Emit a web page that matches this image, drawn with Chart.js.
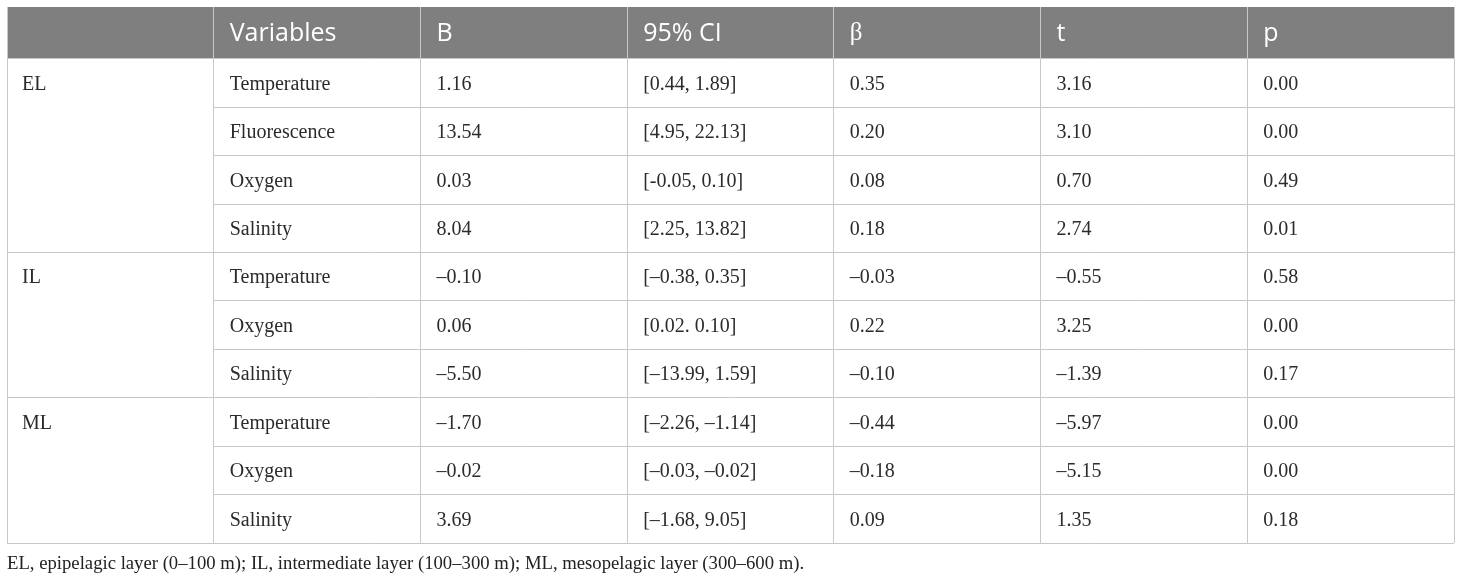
<!DOCTYPE html>
<html>
<head>
    <title>Regression table</title>
    <script src="https://cdn.jsdelivr.net/npm/chart.js"></script>
    <style>
        body {
            margin: 0;
            padding: 0;
            background: #ffffff;
        }
        #tableContainer {
            width: 1460px;
            height: 580px;
        }
    </style>
</head>
<body>

<div id="tableContainer">
    <canvas id="tableChart"></canvas>
</div>

<script>
    // dados da tabela
    var headers = ['', 'Variables', 'B', '95% CI', 'β', 't', 'p'];
    var layers = ['EL', 'IL', 'ML'];
    var layerRows = [4, 3, 3];
    var variables = ['Temperature', 'Fluorescence', 'Oxygen', 'Salinity',
                     'Temperature', 'Oxygen', 'Salinity',
                     'Temperature', 'Oxygen', 'Salinity'];
    var bValues = ['1.16', '13.54', '0.03', '8.04', '–0.10', '0.06', '–5.50', '–1.70', '–0.02', '3.69'];
    var ciValues = ['[0.44, 1.89]', '[4.95, 22.13]', '[-0.05, 0.10]', '[2.25, 13.82]',
                    '[–0.38, 0.35]', '[0.02. 0.10]', '[–13.99, 1.59]',
                    '[–2.26, –1.14]', '[–0.03, –0.02]', '[–1.68, 9.05]'];
    var betaValues = ['0.35', '0.20', '0.08', '0.18', '–0.03', '0.22', '–0.10', '–0.44', '–0.18', '0.09'];
    var tValues = ['3.16', '3.10', '0.70', '2.74', '–0.55', '3.25', '–1.39', '–5.97', '–5.15', '1.35'];
    var pValues = ['0.00', '0.00', '0.49', '0.01', '0.58', '0.00', '0.17', '0.00', '0.00', '0.18'];
    var footnote = 'EL, epipelagic layer (0–100 m); IL, intermediate layer (100–300 m); ML, mesopelagic layer (300–600 m).';

    var columns = [variables, bValues, ciValues, betaValues, tValues, pValues];
    var nRows = variables.length + 1;

    // plugin que desenha cabeçalho, linhas e textos usando as escalas
    var tablePlugin = {
        id: 'tablePlugin',
        beforeDraw: function (chart) {
            var ctx = chart.ctx;
            var x = chart.scales.x, y = chart.scales.y;
            ctx.save();
            ctx.fillStyle = '#7f7f7f';
            ctx.fillRect(x.left, y.getPixelForValue(y.min), x.right - x.left,
                         y.getPixelForValue(1) - y.getPixelForValue(y.min));
            ctx.restore();
        },
        afterDatasetsDraw: function (chart) {
            var ctx = chart.ctx;
            var x = chart.scales.x, y = chart.scales.y;
            ctx.save();

            // linhas horizontais
            ctx.strokeStyle = '#c8c8c8';
            ctx.lineWidth = 1;
            var starts = {};
            var r = 1;
            layers.forEach(function (l, i) { starts[r] = true; r += layerRows[i]; });
            starts[nRows] = true;
            for (var row = 1; row <= nRows; row++) {
                var py = Math.round(y.getPixelForValue(row)) + 0.5;
                var x0 = starts[row] ? x.getPixelForValue(0) : x.getPixelForValue(1);
                ctx.beginPath();
                ctx.moveTo(x0, py);
                ctx.lineTo(x.getPixelForValue(7), py);
                ctx.stroke();
            }

            // cabeçalho
            ctx.fillStyle = '#ffffff';
            ctx.textBaseline = 'middle';
            ctx.textAlign = 'left';
            var hy = (y.getPixelForValue(y.min) + y.getPixelForValue(1)) / 2;
            headers.forEach(function (h, c) {
                ctx.font = (h === 'β' ? '25px "Liberation Serif"' : '25px "Open Sans"');
                ctx.fillText(h, x.getPixelForValue(c) + 16, hy + 1);
            });

            // corpo
            ctx.fillStyle = '#2b2b2b';
            ctx.font = '20px "Liberation Serif"';
            var startRow = 1;
            layers.forEach(function (l, i) {
                ctx.fillText(l, x.getPixelForValue(0) + 15, y.getPixelForValue(startRow + 0.5) + 2);
                startRow += layerRows[i];
            });
            columns.forEach(function (col, c) {
                col.forEach(function (v, i) {
                    ctx.fillText(v, x.getPixelForValue(c + 1) + 16, y.getPixelForValue(i + 1.5) + 2);
                });
            });
            ctx.restore();
        }
    };

    var ctx = document.getElementById('tableChart').getContext('2d');
    new Chart(ctx, {
        type: 'scatter',
        data: { datasets: [] },
        options: {
            responsive: true,
            maintainAspectRatio: false,
            animation: false,
            events: [],
            layout: { padding: { left: 7, right: 6, top: 7, bottom: 0 } },
            plugins: {
                legend: { display: false },
                tooltip: { enabled: false },
                title: {
                    display: true,
                    text: footnote,
                    position: 'bottom',
                    align: 'start',
                    color: '#222222',
                    font: { family: '"Liberation Serif"', size: 18.7, weight: 'normal' },
                    padding: { top: 10, bottom: 5 }
                }
            },
            scales: {
                x: {
                    type: 'linear',
                    min: 0,
                    max: 7,
                    ticks: { display: false, stepSize: 1 },
                    grid: { color: '#c8c8c8', drawTicks: false, lineWidth: 1 },
                    border: { display: false }
                },
                y: {
                    type: 'linear',
                    display: false,
                    reverse: true,
                    min: -0.06,
                    max: nRows
                }
            }
        },
        plugins: [tablePlugin]
    });
</script>

</body>
</html>
